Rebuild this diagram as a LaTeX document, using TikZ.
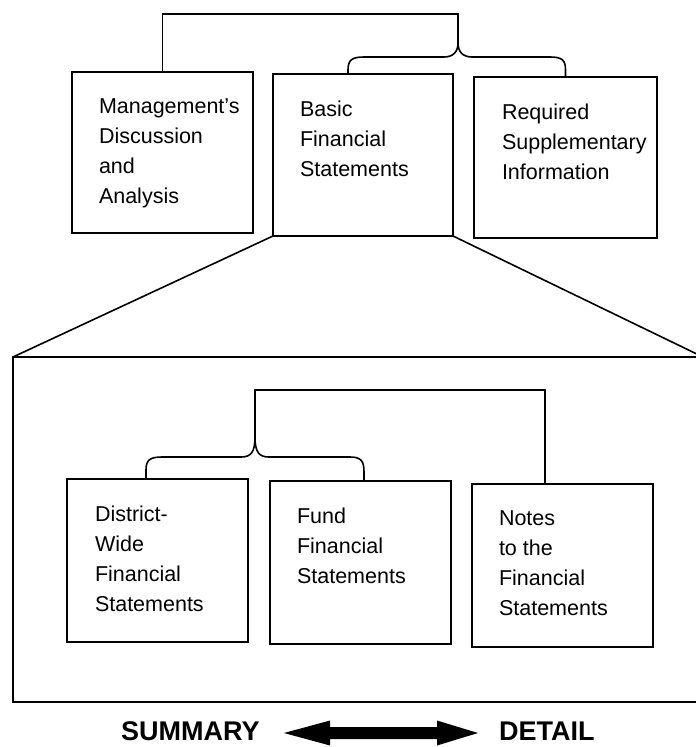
\documentclass[tikz,border=0pt]{standalone}
\usepackage{fontspec}
\setmainfont{Liberation Sans}
\usetikzlibrary{calc}
\begin{document}
\begin{tikzpicture}[x=1pt,y=-1pt,
  box/.style={draw,line width=1.7pt,rectangle,inner sep=0pt,outer sep=0pt,anchor=north west},
  txt/.style={anchor=north west,inner sep=0pt,outer sep=0pt,align=left,font=\fontsize{21.5}{30}\selectfont},
  conn/.style={line width=1.6pt},
  lbl/.style={font=\bfseries\fontsize{27}{30}\selectfont,inner sep=0pt,anchor=base west}]
\clip (0,0) rectangle (696,747);
\fill[white] (0,0) rectangle (696,747);
% top row
\node[box,minimum width=181pt,minimum height=161pt] (mda) at (72,72) {};
\node[box,minimum width=180pt,minimum height=162pt] (basic) at (273,74) {};
\node[box,minimum width=183pt,minimum height=161pt] (rsi) at (474,77) {};
\node[txt] (mdat) at ($(mda.north west)+(27,27)$) {Management's\\Discussion\\and\\Analysis};
\node[txt] (basict) at ($(basic.north west)+(27,27)$) {Basic\\Financial\\Statements};
\node[txt] (rsit) at ($(rsi.north west)+(28,27)$) {Required\\Supplementary\\Information};
% top bracket and brace
\coordinate (tipA) at (458,43);
\draw[conn] (mda.north) -- (mda.north |- 0,14) -| (tipA);
\draw[conn] ($(basic.north)+(-15,0)$) -- (348,70) .. controls (348,60) and (352,57) .. (364,57)
  -- (444,57) .. controls (453,57) and (458,52) .. (tipA)
  .. controls (458,52) and (463,57) .. (472,57) -- (550,57)
  .. controls (562,57) and (565.5,60) .. (565.5,70) -- (rsi.north);
% big box
\node[box,minimum width=690pt,minimum height=345pt] (big) at (13,357) {};
\draw[conn] (basic.south west) -- (big.north west);
\draw[conn] (basic.south east) -- (big.north east);
% lower row
\node[box,minimum width=181pt,minimum height=163pt] (dist) at (67,479) {};
\node[box,minimum width=181pt,minimum height=163pt] (fund) at (270,481) {};
\node[box,minimum width=181pt,minimum height=163pt] (notes) at (472,484) {};
\node[txt] (distt) at ($(dist.north west)+(28,27)$) {District-\\Wide\\Financial\\Statements};
\node[txt] (fundt) at ($(fund.north west)+(27,27)$) {Fund\\Financial\\Statements};
\node[txt] (notest) at ($(notes.north west)+(27,27)$) {Notes\\to the\\Financial\\Statements};
\coordinate (tipB) at (255,437);
\draw[conn] (tipB) -- (255,390) -| ($(notes.north west)+(73,0)$);
\draw[conn] ($(dist.north west)+(79,0)$) -- (146,470) .. controls (146,460) and (150,457) .. (162,457)
  -- (241,457) .. controls (251,457) and (255,452) .. (tipB)
  .. controls (255,452) and (259,457) .. (269,457) -- (350,457)
  .. controls (361,457) and (364,461) .. (364,472) -- ($(fund.north west)+(94,0)$);
% bottom labels and arrow
\node[lbl] (summary) at (121,740) {SUMMARY};
\node[lbl] (detail) at (499,740) {DETAIL};
\fill (284,733) -- (330,720.5) -- (330,727) -- (437,727) -- (437,720.5) -- (478,733)
  -- (437,745.5) -- (437,739) -- (330,739) -- (330,745.5) -- cycle;
\end{tikzpicture}
\end{document}
